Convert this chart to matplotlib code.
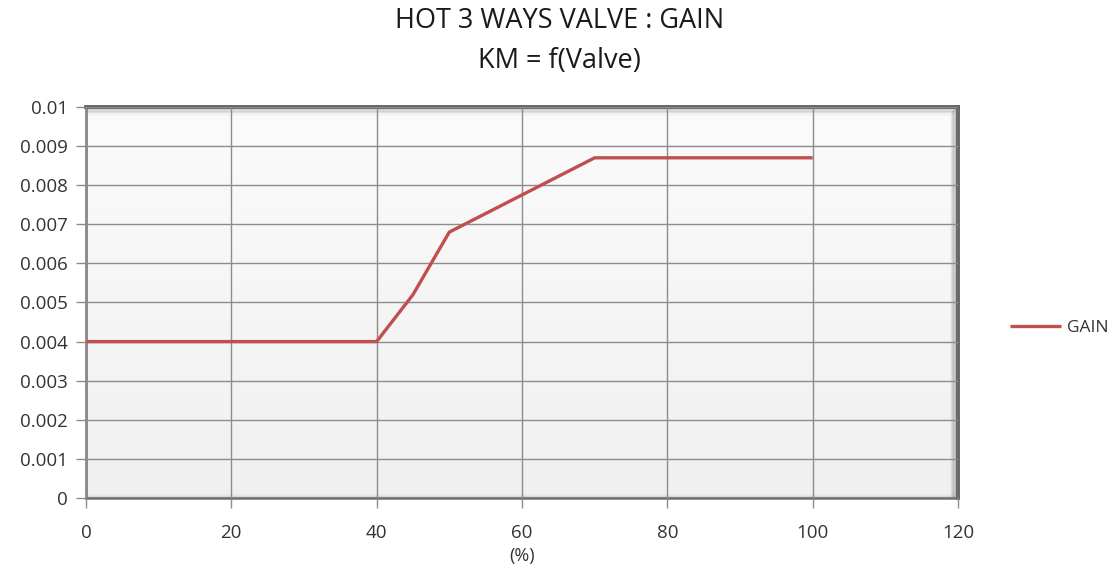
import matplotlib.pyplot as plt
from matplotlib.colors import LinearSegmentedColormap
import numpy as np

# valve opening (%) vs gain KM
valve = [0, 10, 20, 30, 40, 45, 50, 60, 70, 80, 90, 100]
gain = [0.004, 0.004, 0.004, 0.004, 0.004, 0.0052, 0.0068, 0.00775, 0.0087, 0.0087, 0.0087, 0.0087]

x_ticks = [0, 20, 40, 60, 80, 100, 120]
y_ticks = [0, 0.001, 0.002, 0.003, 0.004, 0.005, 0.006, 0.007, 0.008, 0.009, 0.01]
y_labels = ["0", "0.001", "0.002", "0.003", "0.004", "0.005", "0.006",
            "0.007", "0.008", "0.009", "0.01"]

plt.rcParams["font.family"] = ["Open Sans", "DejaVu Sans"]

fig = plt.figure(figsize=(11.12, 5.69), dpi=100)
ax = fig.add_axes([0.0773, 0.1248, 0.7842, 0.6872])

# light background with a faint vertical gradient
ax.set_facecolor("#f8f8f8")
bg = LinearSegmentedColormap.from_list("bg", ["#f0f0f0", "#fbfbfb"])
grad = np.linspace(0, 1, 256).reshape(-1, 1)
ax.imshow(grad, extent=(0, 120, 0, 0.01), aspect="auto", cmap=bg,
          zorder=0, origin="lower")

# bevel: shaded bands inside the top and right edges
for i, a in enumerate([0.6, 0.45, 0.33, 0.22, 0.14, 0.08, 0.04]):
    dx = 0.0014 * i
    dy = dx * 2.3
    ax.plot([0, 1 - dx], [1 - dy, 1 - dy], transform=ax.transAxes,
            color="#555555", alpha=a * 0.7, linewidth=1.5, zorder=1)
    ax.plot([1 - dx, 1 - dx], [0, 1 - dy], transform=ax.transAxes,
            color="#555555", alpha=a, linewidth=1.5, zorder=1)
for i, a in enumerate([0.3, 0.18, 0.08]):
    dy = 0.0035 * i
    ax.plot([0, 1], [dy, dy], transform=ax.transAxes, color="#8a8a8a",
            alpha=a, linewidth=1.6, zorder=1)

ax.grid(True, color="#8c8c8c", linewidth=1.0, zorder=2)
ax.set_axisbelow(False)

ax.plot(valve, gain, color="#c0504d", linewidth=2.4, label="GAIN",
        solid_capstyle="butt", zorder=3)

ax.set_xlim(0, 120)
ax.set_ylim(0, 0.01)
ax.set_xticks(x_ticks)
ax.set_yticks(y_ticks)
ax.set_yticklabels(y_labels)
ax.tick_params(axis="both", colors="#8c8c8c", labelcolor="#333333",
               labelsize=13.5, length=7, width=1.0, direction="out")
ax.tick_params(axis="x", pad=12)
ax.tick_params(axis="y", pad=6)

for side in ["left", "bottom"]:
    ax.spines[side].set_color("#6e6e6e")
    ax.spines[side].set_linewidth(1.8)
for side in ["top", "right"]:
    ax.spines[side].set_color("#666666")
    ax.spines[side].set_linewidth(2.8)

ax.set_xlabel("(%)", fontsize=13, color="#333333", labelpad=3)

fig.text(0.503, 0.963, "HOT 3 WAYS VALVE : GAIN", ha="center", va="center",
         fontsize=19.5, color="#1a1a1a")
fig.text(0.503, 0.893, "KM = f(Valve)", ha="center", va="center",
         fontsize=19.5, color="#1a1a1a")

ax.legend(loc="center left", bbox_to_anchor=(1.048, 0.434), frameon=False,
          fontsize=12.5, handlelength=2.9, handletextpad=0.35,
          borderaxespad=0.2, labelcolor="#333333")

fig.savefig("out.png", dpi=100)
